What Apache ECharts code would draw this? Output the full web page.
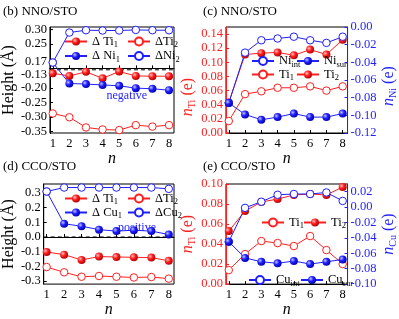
<!DOCTYPE html>
<html>
<head>
<meta charset="utf-8">
<script src="https://cdn.jsdelivr.net/npm/echarts@6/dist/echarts.min.js"></script>
<style>html,body{margin:0;padding:0;background:#fff}#c{width:399px;height:319px}</style>
</head>
<body>
<div id="c"></div>
<script>
// ---------- data ----------
const n = [1, 2, 3, 4, 5, 6, 7, 8];
// (b) NNO/STO heights
const bTi1 = [-0.150, -0.159, -0.145, -0.167, -0.144, -0.159, -0.160, -0.160];
const bTi2 = [-0.288, -0.301, -0.336, -0.343, -0.345, -0.328, -0.333, -0.328];
const bNi1 = [0.186, -0.185, -0.187, -0.190, -0.193, -0.201, -0.203, -0.208];
const bNi2 = [0.186, 0.289, 0.297, 0.296, 0.296, 0.298, 0.297, 0.297];
// (c) NNO/STO charges
const cNiInt = [-0.086, -0.029, -0.015, -0.013, -0.011, -0.015, -0.018, -0.011];
const cNiSur = [-0.086, -0.099, -0.105, -0.102, -0.098, -0.102, -0.102, -0.098];
const cTi1 = [0.017, 0.055, 0.059, 0.064, 0.064, 0.066, 0.060, 0.066];
const cTi2 = [0.043, 0.111, 0.113, 0.114, 0.110, 0.118, 0.111, 0.132];
// (d) CCO/STO heights
const dTi1 = [-0.102, -0.120, -0.156, -0.133, -0.136, -0.138, -0.140, -0.162];
const dTi2 = [-0.204, -0.240, -0.270, -0.265, -0.270, -0.275, -0.272, -0.283];
const dCu1 = [0.309, 0.090, 0.073, 0.050, 0.040, 0.046, 0.040, 0.017];
const dCu2 = [0.309, 0.336, 0.336, 0.336, 0.336, 0.336, 0.336, 0.327];
// (e) CCO/STO charges
const eTi1 = [0.014, 0.030, 0.043, 0.041, 0.038, 0.048, 0.034, 0.020];
const eTi2 = [0.053, 0.073, 0.082, 0.085, 0.089, 0.090, 0.089, 0.097];
const eCuInt = [-0.045, -0.001, 0.007, 0.016, 0.017, 0.017, 0.019, 0.008];
const eCuSur = [-0.045, -0.066, -0.071, -0.073, -0.070, -0.074, -0.071, -0.068];
// axis break of panel (b) and the dashed marker level drawn just under it
const bBreak = [-0.133, 0.166];
const bBreakMark = -0.138;
// x range of every panel
const xRange = [0.83, 8.3];

// ---------- styles ----------
const FF = '"Liberation Serif", "Times New Roman", serif';
const RED = '#ff1f1f', BLUE = '#1f1fff', BLACK = '#000';
const pairs = arr => arr.map((v, i) => [n[i], v]);
function ball(c) {
  const light = c === RED ? '#ffc4c4' : '#c4c4ff';
  const dark = c === RED ? '#b00000' : '#0000a8';
  return { type: 'radial', x: 0.35, y: 0.35, r: 0.7,
    colorStops: [{ offset: 0, color: light }, { offset: 0.45, color: c }, { offset: 1, color: dark }] };
}
function mk(name, gi, yi, arr, color, filled, extra) {
  return Object.assign({
    name, type: 'line', xAxisIndex: gi, yAxisIndex: yi, data: pairs(arr),
    symbol: 'circle', symbolSize: filled ? 8 : 7.5,
    lineStyle: { color, width: 1 },
    itemStyle: filled ? { color: ball(color), borderWidth: 0 } : { color: '#fff', borderColor: color, borderWidth: 1 },
    emphasis: { disabled: true }, silent: true, animation: false
  }, extra || {});
}
function refLine(name, gi, yi, v) {
  return {
    name, type: 'line', xAxisIndex: gi, yAxisIndex: yi, z: 1,
    data: [[xRange[0], v], [xRange[1], v]], symbol: 'none', clip: false,
    lineStyle: { color: BLACK, width: 1, type: [4, 3] },
    emphasis: { disabled: true }, silent: true, animation: false
  };
}
function rich(color) {
  return {
    t: { fontFamily: FF, fontSize: 12.5, color },
    s: { fontFamily: FF, fontSize: 8.5, color, padding: [7, 0, 0, 0] }
  };
}
function nameRich(color) {
  return {
    i: { fontFamily: FF, fontSize: 16, fontStyle: 'italic', color },
    t: { fontFamily: FF, fontSize: 16, color },
    s: { fontFamily: FF, fontSize: 10, color, padding: [9, 0, 0, 0] }
  };
}
const LEG = {
  b_Ti1: '{t|Δ Ti}{s|1}', b_Ti2: '{t|ΔTi}{s|2}', b_Ni1: '{t|Δ Ni}{s|1}', b_Ni2: '{t|ΔNi}{s|2}',
  d_Ti1: '{t|Δ Ti}{s|1}', d_Ti2: '{t|ΔTi}{s|2}', d_Cu1: '{t|Δ Cu}{s|1}', d_Cu2: '{t|ΔCu}{s|2}',
  c_NiInt: '{t|Ni}{s|int}', c_NiSur: '{t|Ni}{s|sur}', c_Ti1: '{t|Ti}{s|1}', c_Ti2: '{t|Ti}{s|2}',
  e_Ti1: '{t|Ti}{s|1}', e_Ti2: '{t|Ti}{s|2}', e_CuInt: '{t|Cu}{s|int}', e_CuSur: '{t|Cu}{s|sur}'
};
function lg(id, cx, cy) {
  return {
    data: [id], left: cx - 11, top: cy - 8, itemWidth: 22, itemHeight: 10, padding: 0,
    selectedMode: false, formatter: nm => LEG[nm],
    textStyle: { fontFamily: FF, fontSize: 12.5, color: BLACK, rich: rich(BLACK) }
  };
}
const grids = [
  { left: 40, top: 27, width: 134, height: 106 },
  { left: 226, top: 27, width: 133, height: 106 },
  { left: 40, top: 184, width: 134, height: 108 },
  { left: 226, top: 184, width: 133, height: 108 }
].map(g => Object.assign({ show: true, borderColor: BLACK, borderWidth: 1, backgroundColor: 'transparent' }, g));

function xAx(gi) {
  return {
    gridIndex: gi, type: 'value', min: xRange[0], max: xRange[1], splitNumber: 8,
    axisLine: { show: true, lineStyle: { color: BLACK } },
    axisTick: { show: true, inside: true, length: 3, lineStyle: { color: BLACK } },
    splitLine: { show: false },
    axisLabel: { fontFamily: FF, fontSize: 12.5, color: BLACK, margin: 4, showMinLabel: false, showMaxLabel: false,
      formatter: v => (Math.abs(v - Math.round(v)) < 1e-6 ? String(Math.round(v)) : '') },
    name: 'n', nameLocation: 'middle', nameGap: 15,
    nameTextStyle: { fontFamily: FF, fontSize: 16, fontStyle: 'italic', color: BLACK }
  };
}
function yAx(gi, color, pos, o) {
  return Object.assign({
    gridIndex: gi, type: 'value', position: pos,
    axisLine: { show: true, onZero: false, lineStyle: { color } },
    axisTick: { show: true, inside: true, length: 3, lineStyle: { color } },
    splitLine: { show: false },
    nameLocation: 'middle'
  }, o);
}
const fix2 = v => v.toFixed(2);
const yAxes = [
  // 0: (b)
  yAx(0, BLACK, 'left', {
    min: -0.355, max: 0.308, splitNumber: 7,
    breaks: [{ start: bBreak[0], end: bBreak[1], gap: 0 }],
    breakArea: { show: false, expandOnClick: false },
    axisLabel: { fontFamily: FF, fontSize: 12.5, color: BLACK, margin: 3, formatter: fix2, showMinLabel: false, showMaxLabel: false },
    name: 'Height (Å)', nameGap: 23, nameTextStyle: { fontFamily: FF, fontSize: 16, color: BLACK }
  }),
  // 1: (c) left
  yAx(1, RED, 'left', {
    min: 0, max: 0.15, interval: 0.02,
    axisLabel: { fontFamily: FF, fontSize: 12.5, color: RED, margin: 3, formatter: fix2, showMaxLabel: false },
    name: '{i|n}{s|Ti}{t| (e)}', nameGap: 28,
    nameTextStyle: { color: RED, rich: nameRich(RED), padding: [0, 34, 0, 0] }
  }),
  // 2: (c) right
  yAx(1, BLUE, 'right', {
    min: -0.12, max: 0, interval: 0.02,
    axisLabel: { fontFamily: FF, fontSize: 12.5, color: BLUE, margin: 3, formatter: fix2 },
    name: '{i|n}{s|Ni}{t| (e)}', nameGap: 24,
    nameTextStyle: { color: BLUE, rich: nameRich(BLUE), padding: [0, 12, 0, 0] }
  }),
  // 3: (d)
  yAx(2, BLACK, 'left', {
    min: -0.32, max: 0.36, splitNumber: 7,
    axisLabel: { fontFamily: FF, fontSize: 12.5, color: BLACK, margin: 3, formatter: v => v.toFixed(1), showMinLabel: false, showMaxLabel: false },
    name: 'Height (Å)', nameGap: 23, nameTextStyle: { fontFamily: FF, fontSize: 16, color: BLACK }
  }),
  // 4: (e) left
  yAx(3, RED, 'left', {
    min: 0, max: 0.10, interval: 0.02,
    axisLabel: { fontFamily: FF, fontSize: 12.5, color: RED, margin: 3, formatter: fix2 },
    name: '{i|n}{s|Ti}{t| (e)}', nameGap: 28,
    nameTextStyle: { color: RED, rich: nameRich(RED) }
  }),
  // 5: (e) right
  yAx(3, BLUE, 'right', {
    min: -0.10, max: 0.03, interval: 0.02,
    axisLabel: { fontFamily: FF, fontSize: 12.5, color: BLUE, margin: 3, formatter: fix2, showMaxLabel: false },
    name: '{i|n}{s|Cu}{t| (e)}', nameGap: 24,
    nameTextStyle: { color: BLUE, rich: nameRich(BLUE) }
  })
];

const series = [
  refLine('b_break', 0, 0, bBreakMark),
  mk('b_Ti1', 0, 0, bTi1, RED, true),
  mk('b_Ti2', 0, 0, bTi2, RED, false),
  mk('b_Ni1', 0, 0, bNi1, BLUE, true),
  mk('b_Ni2', 0, 0, bNi2, BLUE, false),
  mk('c_Ti1', 1, 1, cTi1, RED, false),
  mk('c_Ti2', 1, 1, cTi2, RED, true),
  mk('c_NiInt', 1, 2, cNiInt, BLUE, false),
  mk('c_NiSur', 1, 2, cNiSur, BLUE, true),
  refLine('d_zero', 2, 3, 0),
  mk('d_Ti1', 2, 3, dTi1, RED, true),
  mk('d_Ti2', 2, 3, dTi2, RED, false),
  mk('d_Cu1', 2, 3, dCu1, BLUE, true),
  mk('d_Cu2', 2, 3, dCu2, BLUE, false),
  mk('e_Ti1', 3, 4, eTi1, RED, false),
  mk('e_Ti2', 3, 4, eTi2, RED, true),
  mk('e_CuInt', 3, 5, eCuInt, BLUE, false),
  mk('e_CuSur', 3, 5, eCuSur, BLUE, true)
];

const legends = [
  lg('b_Ti1', 75, 43), lg('b_Ti2', 138, 43), lg('b_Ni1', 75, 57.5), lg('b_Ni2', 138, 57.5),
  lg('d_Ti1', 75, 200), lg('d_Ti2', 138, 200), lg('d_Cu1', 75, 214), lg('d_Cu2', 138, 214),
  lg('c_NiInt', 262, 62.5), lg('c_NiSur', 307, 62.5), lg('c_Ti1', 262, 76), lg('c_Ti2', 307, 76),
  lg('e_Ti1', 272, 224), lg('e_Ti2', 314, 224), lg('e_CuInt', 259, 281.5), lg('e_CuSur', 311, 281.5)
];

const txt = (s, x, y, color, size) => ({ type: 'text', left: x, top: y, silent: true,
  style: { text: s, fill: color, font: size + 'px ' + FF } });

const chart = echarts.init(document.getElementById('c'), null, { renderer: 'canvas' });
chart.setOption({
  animation: false,
  backgroundColor: '#fff',
  grid: grids,
  xAxis: [xAx(0), xAx(1), xAx(2), xAx(3)],
  yAxis: yAxes,
  legend: legends,
  series,
  graphic: [
    txt('(b) NNO/STO', 3, 5, BLACK, 13),
    txt('(c) NNO/STO', 203, 5, BLACK, 13),
    txt('(d) CCO/STO', 3, 160, BLACK, 13),
    txt('(e) CCO/STO', 203, 160, BLACK, 13),
    txt('negative', 106.5, 90, BLUE, 12),
    txt('positive', 118, 222, BLUE, 12)
  ]
});
</script>
</body>
</html>
